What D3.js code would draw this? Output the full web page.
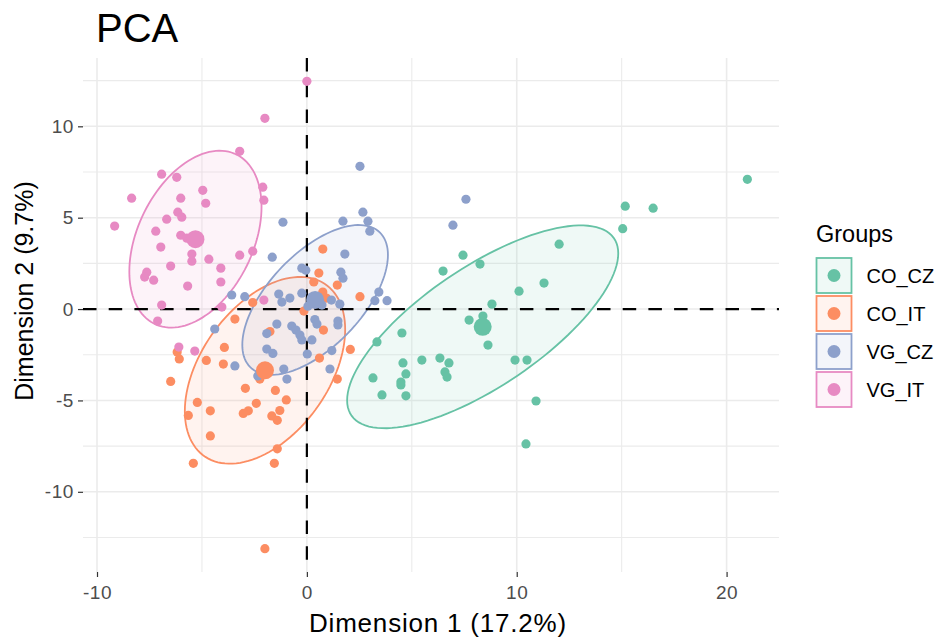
<!DOCTYPE html>
<html>
<head>
<meta charset="utf-8">
<script src="https://cdn.jsdelivr.net/npm/d3@7"></script>
<style>
  body { margin: 0; background: #fff; }
  svg text { font-family: "Liberation Sans", Arial, Helvetica, sans-serif; }
</style>
</head>
<body>
<svg id="chart" width="938" height="638"></svg>
<script>
// Individuals on the first two principal dimensions, by group
const groups = ["CO_CZ", "CO_IT", "VG_CZ", "VG_IT"];
const groupColors = ["#66C2A5", "#FC8D62", "#8DA0CB", "#E78AC3"];

const pointsCO_CZ = [
  [20.99, 7.10], [15.17, 5.63], [16.50, 5.52], [15.05, 4.40], [12.02, 3.55],
  [7.44, 2.95], [8.25, 2.46], [6.49, 2.08], [11.30, 1.42], [10.11, 0.98],
  [8.82, 0.27], [8.39, -0.38], [7.73, -0.60], [4.53, -1.31], [8.63, -1.97],
  [3.34, -1.80], [4.58, -2.95], [5.48, -2.79], [6.34, -2.68], [6.77, -2.95],
  [9.92, -2.79], [10.49, -2.79], [4.72, -3.55], [6.58, -3.44], [6.68, -3.72],
  [3.15, -3.77], [4.48, -3.99], [4.48, -4.15], [3.58, -4.70], [4.72, -4.75],
  [10.92, -5.03], [10.44, -7.38]
];
const pointsCO_IT = [
  [0.76, 3.28], [0.57, 1.97], [0.33, 1.48], [1.45, 1.31], [0.76, 0.93],
  [0.93, 0.60], [2.53, 0.68], [-2.58, 0.36], [-0.14, -0.11], [-3.43, -0.55],
  [0.79, -1.15], [-1.76, -1.23], [-3.93, -2.10], [2.07, -2.21], [-6.18, -2.35],
  [-6.08, -2.73], [-4.79, -2.81], [-3.98, -3.01], [0.60, -2.68], [-2.24, -3.83],
  [1.45, -3.83], [-6.49, -3.96], [-2.93, -4.34], [-1.50, -4.45], [-0.98, -4.97],
  [-2.41, -5.16], [-5.22, -5.11], [-4.60, -5.57], [-2.79, -5.57], [-3.03, -5.71],
  [-1.29, -5.55], [-1.67, -5.85], [-1.41, -6.09], [-5.65, -5.82], [-4.60, -6.94],
  [-1.41, -7.65], [-5.41, -8.44], [-1.55, -8.44], [-2.00, -13.11]
];
const pointsVG_CZ = [
  [2.53, 7.81], [7.58, 6.01], [6.96, 4.59], [-1.14, 4.75], [2.67, 5.30],
  [1.72, 4.81], [2.91, 4.81], [3.00, 4.26], [1.81, 3.01], [-1.65, 2.84],
  [-0.24, 2.24], [-0.05, 2.13], [1.62, 2.02], [1.72, 1.69], [3.43, 0.93],
  [3.24, 0.46], [3.82, 0.46], [-3.58, 0.77], [-2.96, 0.68], [-1.34, 0.82],
  [-0.81, 0.60], [-1.19, 0.38], [-0.24, 0.87], [1.17, 0.49], [1.57, 0.27],
  [-4.39, -1.09], [-1.43, -0.82], [-1.91, -1.34], [-0.72, -0.93], [-0.52, -1.15],
  [-0.33, -1.42], [-0.24, -1.69], [0.38, -0.57], [0.48, -0.82], [1.48, -0.66],
  [0.24, -1.69], [-1.91, -2.19], [-1.62, -2.43], [0.02, -2.46], [1.19, -2.27],
  [-3.43, -3.11], [-1.10, -3.28], [-0.95, -3.83], [1.10, -3.28], [-2.34, -3.66],
  [0.48, 0.66], [0.72, 0.22], [0.05, 0.16], [1.48, -0.87]
];
const pointsVG_IT = [
  [0.00, 12.46], [-2.00, 10.44], [-3.20, 8.63], [-6.92, 7.38], [-6.20, 7.21],
  [-2.10, 6.67], [-2.05, 5.96], [-8.35, 6.07], [-4.96, 6.50], [-6.01, 6.07],
  [-4.82, 5.79], [-6.15, 5.30], [-5.96, 5.03], [-6.68, 4.92], [-9.16, 4.54],
  [-7.20, 4.26], [-6.01, 4.04], [-5.72, 3.88], [-6.96, 3.39], [-5.48, 3.01],
  [-5.48, 2.62], [-4.67, 2.73], [-3.20, 2.95], [-2.58, 3.17], [-6.49, 2.35],
  [-4.10, 2.24], [-7.63, 2.02], [-7.73, 1.75], [-7.30, 1.58], [-4.10, 1.48],
  [-5.68, 1.26], [-6.92, 0.22], [-4.05, 0.11], [-7.11, -0.66], [-2.05, 0.49],
  [-6.10, -2.08], [-5.34, -2.30]
];
const groupPoints = [pointsCO_CZ, pointsCO_IT, pointsVG_CZ, pointsVG_IT];

// Concentration ellipse spread per group: x half-extent, y half-extent, correlation
const ellipseRx = [6.46, 3.82, 3.47, 3.15];
const ellipseRy = [5.55, 5.11, 4.10, 4.84];
const ellipseCorr = [0.724, 0.438, 0.60, 0.367];

const xTicks = [-10, 0, 10, 20];
const yTicks = [-10, -5, 0, 5, 10];
const xMinor = [-5, 5, 15];
const yMinor = [-12.5, -7.5, -2.5, 2.5, 7.5, 12.5];

const titleText = "PCA";
const xLabel = "Dimension 1 (17.2%)";
const yLabel = "Dimension 2 (9.7%)";
const legendTitle = "Groups";

// ---- layout ----
const svg = d3.select("#chart");
const panel = { left: 83, right: 779, top: 58, bottom: 572 };

const all = groupPoints.flat();
function expanded(vals) {
  const [lo, hi] = d3.extent(vals);
  const pad = (hi - lo) * 0.05;
  return [lo - pad, hi + pad];
}
const x = d3.scaleLinear().domain(expanded(all.map(d => d[0]))).range([panel.left, panel.right]);
const y = d3.scaleLinear().domain(expanded(all.map(d => d[1]))).range([panel.bottom, panel.top]);

// ---- grid ----
const grid = svg.append("g");
grid.selectAll("line.vminor").data(xMinor).join("line")
  .attr("x1", d => x(d)).attr("x2", d => x(d))
  .attr("y1", panel.top).attr("y2", panel.bottom)
  .attr("stroke", "#EBEBEB").attr("stroke-width", 1.1);
grid.selectAll("line.hminor").data(yMinor).join("line")
  .attr("y1", d => y(d)).attr("y2", d => y(d))
  .attr("x1", panel.left).attr("x2", panel.right)
  .attr("stroke", "#EBEBEB").attr("stroke-width", 1.1);
grid.selectAll("line.vmajor").data(xTicks).join("line")
  .attr("x1", d => x(d)).attr("x2", d => x(d))
  .attr("y1", panel.top).attr("y2", panel.bottom)
  .attr("stroke", "#EBEBEB").attr("stroke-width", 1.6);
grid.selectAll("line.hmajor").data(yTicks).join("line")
  .attr("y1", d => y(d)).attr("y2", d => y(d))
  .attr("x1", panel.left).attr("x2", panel.right)
  .attr("stroke", "#EBEBEB").attr("stroke-width", 1.6);

// ---- axes ----
const xAxis = svg.append("g")
  .attr("transform", `translate(0,${panel.bottom})`)
  .call(d3.axisBottom(x).tickValues(xTicks).tickSize(5).tickPadding(9).tickFormat(d3.format("d")));
const yAxis = svg.append("g")
  .attr("transform", `translate(${panel.left},0)`)
  .call(d3.axisLeft(y).tickValues(yTicks).tickSize(5).tickPadding(4).tickFormat(d3.format("d")));
[xAxis, yAxis].forEach(a => {
  a.select(".domain").remove();
  a.selectAll(".tick line").attr("stroke", "#333").attr("stroke-width", 1.2);
  a.selectAll(".tick text").attr("fill", "#4D4D4D").style("font-size", "19px")
    .style("letter-spacing", "0.6px")
    .text(d => String(d));
});

// ---- concentration ellipses ----
const ellipseLine = d3.line().x(d => x(d[0])).y(d => y(d[1])).curve(d3.curveLinearClosed);
const ellipses = groups.map((g, i) => {
  const cx = d3.mean(groupPoints[i], d => d[0]);
  const cy = d3.mean(groupPoints[i], d => d[1]);
  const rx = ellipseRx[i], ry = ellipseRy[i], r = ellipseCorr[i];
  const s = Math.sqrt(1 - r * r);
  return d3.range(0, 121).map(k => {
    const t = (k / 120) * 2 * Math.PI;
    return [cx + rx * Math.cos(t), cy + ry * (r * Math.cos(t) + s * Math.sin(t))];
  });
});
svg.append("g").selectAll("path").data(ellipses).join("path")
  .attr("d", d => ellipseLine(d))
  .attr("fill", (d, i) => groupColors[i]).attr("fill-opacity", 0.1)
  .attr("stroke", (d, i) => groupColors[i]).attr("stroke-width", 1.8);

// ---- reference lines at the origin ----
svg.append("line")
  .attr("x1", panel.left).attr("x2", panel.right).attr("y1", y(0)).attr("y2", y(0))
  .attr("stroke", "#000").attr("stroke-width", 2.2).attr("stroke-dasharray", "13.5,12.2");
svg.append("line")
  .attr("x1", x(0)).attr("x2", x(0)).attr("y1", panel.top).attr("y2", panel.bottom)
  .attr("stroke", "#000").attr("stroke-width", 2.2).attr("stroke-dasharray", "13.5,12.2");

// ---- individuals ----
const pts = svg.append("g");
groups.forEach((g, i) => {
  pts.append("g").selectAll("circle").data(groupPoints[i]).join("circle")
    .attr("cx", d => x(d[0])).attr("cy", d => y(d[1])).attr("r", 4.6)
    .attr("fill", groupColors[i]);
});
// group centres
groups.forEach((g, i) => {
  pts.append("circle")
    .attr("cx", x(d3.mean(groupPoints[i], d => d[0])))
    .attr("cy", y(d3.mean(groupPoints[i], d => d[1])))
    .attr("r", 9).attr("fill", groupColors[i]);
});

// ---- titles ----
svg.append("text").attr("x", 96).attr("y", 42).style("font-size", "40px").attr("fill", "#000").text(titleText);
svg.append("text").attr("x", 438).attr("y", 632)
  .attr("text-anchor", "middle").style("font-size", "26px").style("letter-spacing", "0.8px")
  .attr("fill", "#000").text(xLabel);
svg.append("text").attr("transform", "translate(33,291) rotate(-90)")
  .attr("text-anchor", "middle").style("font-size", "25px").attr("fill", "#000").text(yLabel);

// ---- legend ----
const legend = svg.append("g");
legend.append("text").attr("x", 816).attr("y", 242).style("font-size", "23.5px").attr("fill", "#000").text(legendTitle);
const keys = legend.selectAll("g.key").data(groups).join("g")
  .attr("transform", (d, i) => `translate(816.5,${258 + i * 38})`);
keys.append("rect").attr("width", 35).attr("height", 35)
  .attr("fill", (d, i) => groupColors[i]).attr("fill-opacity", 0.1)
  .attr("stroke", (d, i) => groupColors[i]).attr("stroke-width", 1.8);
keys.append("circle").attr("cx", 17.5).attr("cy", 17.5).attr("r", 6.5)
  .attr("fill", (d, i) => groupColors[i]);
keys.append("text").attr("x", 50).attr("y", 17.5).attr("dy", "0.35em")
  .style("font-size", "20px").attr("fill", "#000").text(d => d);
</script>
</body>
</html>
